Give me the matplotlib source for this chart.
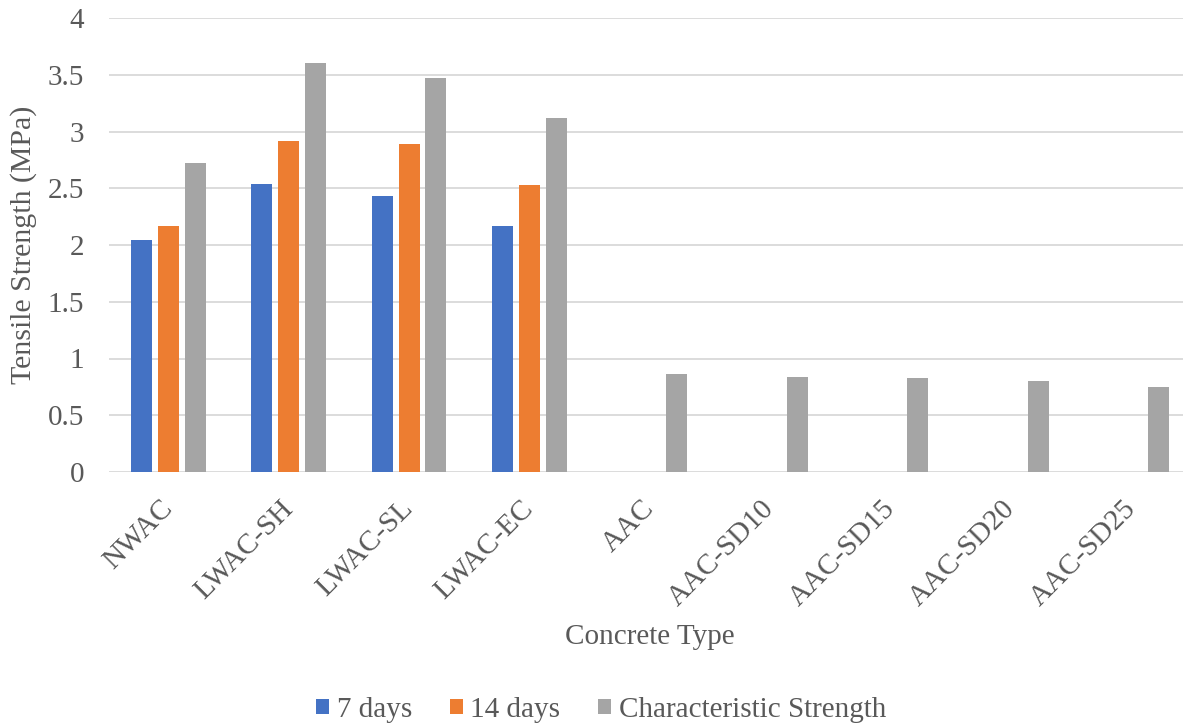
import matplotlib
matplotlib.use("Agg")
import matplotlib.pyplot as plt
import matplotlib.transforms as mtransforms
import numpy as np

categories = ["NWAC", "LWAC-SH", "LWAC-SL", "LWAC-EC", "AAC", "AAC-SD10", "AAC-SD15", "AAC-SD20", "AAC-SD25"]
days7 = [2.04, 2.54, 2.43, 2.17, 0, 0, 0, 0, 0]
days14 = [2.17, 2.92, 2.89, 2.53, 0, 0, 0, 0, 0]
characteristic = [2.72, 3.60, 3.47, 3.12, 0.86, 0.84, 0.83, 0.80, 0.75]
series_names = ["7 days", "14 days", "Characteristic Strength"]
colors = ["#4472C4", "#ED7D31", "#A5A5A5"]
yticks = [0, 0.5, 1, 1.5, 2, 2.5, 3, 3.5, 4]
ytick_labels = ["0", "0.5", "1", "1.5", "2", "2.5", "3", "3.5", "4"]

plt.rcParams['font.family'] = ['Liberation Serif', 'DejaVu Serif']
txt = "#595959"
fs = 21

fig = plt.figure(figsize=(11.83, 7.26), dpi=100)
W, H = 1183, 726
left, right, bottom, top = 109, 1183, 472, 18
ax = fig.add_axes([left / W, (H - bottom) / H, (right - left) / W, (bottom - top) / H])

x = np.arange(len(categories))
cat_w = 120.4
bw = 21 / cat_w
step = 27 / cat_w
for i, (vals, name, c) in enumerate(zip([days7, days14, characteristic], series_names, colors)):
    ax.bar(x + (i - 1) * step, vals, width=bw, color=c, label=name, zorder=3)

ax.set_ylim(0, 4)
x0 = -0.5 + 1.0 / cat_w
ax.set_xlim(x0, x0 + (right - left) / cat_w)
ax.set_yticks(yticks)
ax.set_yticklabels(ytick_labels)
ax.yaxis.grid(True, color="#D9D9D9", linewidth=1.3, zorder=0)
ax.set_axisbelow(True)
for s in ["top", "right", "left", "bottom"]:
    ax.spines[s].set_visible(False)
ax.tick_params(axis="both", length=0, labelsize=fs, colors=txt)
ax.tick_params(axis="y", pad=18)
ax.set_xticks(x)
ax.set_xticklabels(categories, rotation=45, ha="right", rotation_mode="anchor")
ax.tick_params(axis="x", pad=14)
off = mtransforms.ScaledTranslation(-9 / 100, -4 / 100, fig.dpi_scale_trans)
for lab in ax.get_xticklabels():
    lab.set_transform(lab.get_transform() + off)

fig.text(24 / W, 1 - 245 / H, "Tensile Strength (MPa)", rotation=90, ha="center", va="center",
         fontsize=fs + 0.5, color=txt)
fig.text(650 / W, 1 - 637 / H, "Concrete Type", ha="center", va="center", fontsize=fs, color=txt)

fig.legend(loc="center", bbox_to_anchor=(601 / W, 1 - 710 / H), ncol=3, frameon=False,
           fontsize=fs, labelcolor=txt, handlelength=0.45, handleheight=0.45,
           handletextpad=0.25, columnspacing=1.3)

fig.savefig("out.png", dpi=100)
